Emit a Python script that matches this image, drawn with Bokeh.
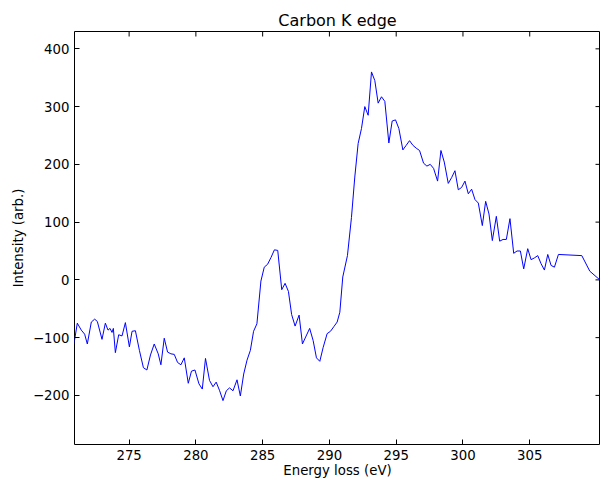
from bokeh.plotting import figure
from bokeh.models import Range1d, FixedTicker, CustomJSTickFormatter
from bokeh.embed import file_html
from bokeh.resources import INLINE

# ---- data ----
energy = [270.87, 271.12, 271.42, 271.67, 271.87, 272.17, 272.42, 272.62, 272.97, 273.22,
          273.42, 273.57, 273.72, 273.82, 273.97, 274.22, 274.47, 274.72, 275.02, 275.22,
          275.47, 275.77, 276.07, 276.33, 276.6, 276.88, 277.18, 277.38, 277.63, 277.88,
          278.13, 278.38, 278.63, 278.88, 279.13, 279.43, 279.67, 279.93, 280.23, 280.48,
          280.72, 281.02, 281.28, 281.52, 281.78, 282.03, 282.28, 282.52, 282.78, 283.08,
          283.33, 283.58, 283.83, 284.08, 284.32, 284.57, 284.87, 285.12, 285.37, 285.63,
          285.88, 286.13, 286.43, 286.68, 286.93, 287.17, 287.43, 287.73, 287.98, 288.22,
          288.52, 288.78, 289.03, 289.28, 289.53, 289.83, 290.08, 290.33, 290.58, 290.78,
          291.0, 291.35, 291.65, 291.9, 292.15, 292.4, 292.65, 292.9, 293.15, 293.4,
          293.65, 293.9, 294.15, 294.45, 294.7, 294.95, 295.2, 295.5, 295.75, 296.0,
          296.25, 296.5, 296.75, 297.05, 297.3, 297.55, 297.8, 298.1, 298.35, 298.6,
          298.9, 299.15, 299.4, 299.65, 299.9, 300.15, 300.4, 300.65, 300.9, 301.15,
          301.45, 301.7, 301.95, 302.2, 302.5, 302.75, 303.0, 303.25, 303.52, 303.8,
          304.05, 304.3, 304.55, 304.85, 305.1, 305.35, 305.6, 305.85, 306.1, 306.35,
          306.6, 306.85, 307.15, 308.9, 309.5, 310.25]
intensity = [-111, -75, -87, -94, -111, -73, -68, -72, -103, -75,
             -87, -84, -91, -84, -126, -95, -97, -74, -116, -89,
             -88, -122, -152, -156, -130, -111, -128, -147, -101, -125,
             -128, -129, -143, -147, -135, -179, -158, -156, -180, -189,
             -136, -174, -185, -177, -192, -209, -192, -187, -192, -173,
             -201, -163, -139, -122, -89, -76, -2, 22, 27, 39,
             52, 51, -17, -6, -20, -60, -80, -61, -111, -99,
             -84, -105, -135, -141, -117, -93, -89, -81, -73, -56,
             5, 42, 108, 178, 236, 262, 300, 285, 360, 345,
             306, 317, 309, 237, 275, 277, 262, 225, 233, 241,
             233, 228, 224, 202, 197, 200, 193, 171, 224, 204,
             167, 177, 189, 156, 160, 171, 149, 157, 139, 133,
             94, 136, 114, 68, 110, 67, 70, 70, 106, 46,
             50, 50, 19, 54, 35, 38, 42, 28, 17, 44,
             25, 22, 44, 42, 15, 0]

x_ticks = [275, 280, 285, 290, 295, 300, 305]
y_ticks = [-200, -100, 0, 100, 200, 300, 400]
title_text = "Carbon K edge"
x_label = "Energy loss (eV)"
y_label = "Intensity (arb.)"

X0, X1 = 270.91, 310.3
Y0, Y1 = -285, 430
FONT = "DejaVu Sans"
TICK_PX = "13.3px"
W, H = 600, 481
BL, BR, BT, BB = 74, 0, 31, 37
TICK_LEN = 5

p = figure(width=W, height=H, x_range=Range1d(X0, X1), y_range=Range1d(Y0, Y1),
           output_backend="svg", toolbar_location=None,
           min_border_left=BL, min_border_right=BR, min_border_top=BT, min_border_bottom=BB)
p.grid.visible = False
p.outline_line_color = "black"
p.outline_line_width = 1
p.background_fill_color = "white"
p.border_fill_color = "white"

p.title.text = title_text
p.title.align = "center"
p.title.text_font = FONT
p.title.text_font_size = "16px"
p.title.text_font_style = "normal"
p.title.text_color = "black"
p.title.standoff = 4

minus_fmt = "return tick < 0 ? '\u2212' + (-tick) : '' + tick;"

for ax, ticks in ((p.xaxis[0], x_ticks), (p.yaxis[0], y_ticks)):
    ax.ticker = FixedTicker(ticks=ticks)
    ax.minor_tick_line_color = None
    ax.axis_line_color = None
    ax.major_tick_in = TICK_LEN
    ax.major_tick_out = 0
    ax.major_tick_line_color = "black"
    ax.major_tick_line_width = 1
    ax.major_label_text_font = FONT
    ax.major_label_text_font_size = TICK_PX
    ax.major_label_text_color = "black"
    ax.major_label_standoff = 5
    ax.formatter = CustomJSTickFormatter(code=minus_fmt)
    ax.axis_label_text_font = FONT
    ax.axis_label_text_font_size = TICK_PX
    ax.axis_label_text_font_style = "normal"
    ax.axis_label_text_color = "black"

p.xaxis[0].axis_label = x_label
p.xaxis[0].axis_label_standoff = 0
p.yaxis[0].axis_label = y_label
p.yaxis[0].axis_label_standoff = 4

# inward ticks on the top and right edges (matplotlib classic style)
frame_w = W - BL - BR
frame_h = H - BT - BB
dy = TICK_LEN * (Y1 - Y0) / frame_h
dx = TICK_LEN * (X1 - X0) / frame_w
p.segment(x0=x_ticks, y0=[Y1] * len(x_ticks), x1=x_ticks, y1=[Y1 - dy] * len(x_ticks),
          line_color="black", line_width=1)
p.segment(x0=[X1] * len(y_ticks), y0=y_ticks, x1=[X1 - dx] * len(y_ticks), y1=y_ticks,
          line_color="black", line_width=1)

p.line(energy, intensity, line_color="#0000ff", line_width=1)

open("out.html", "w").write(file_html(p, INLINE))
